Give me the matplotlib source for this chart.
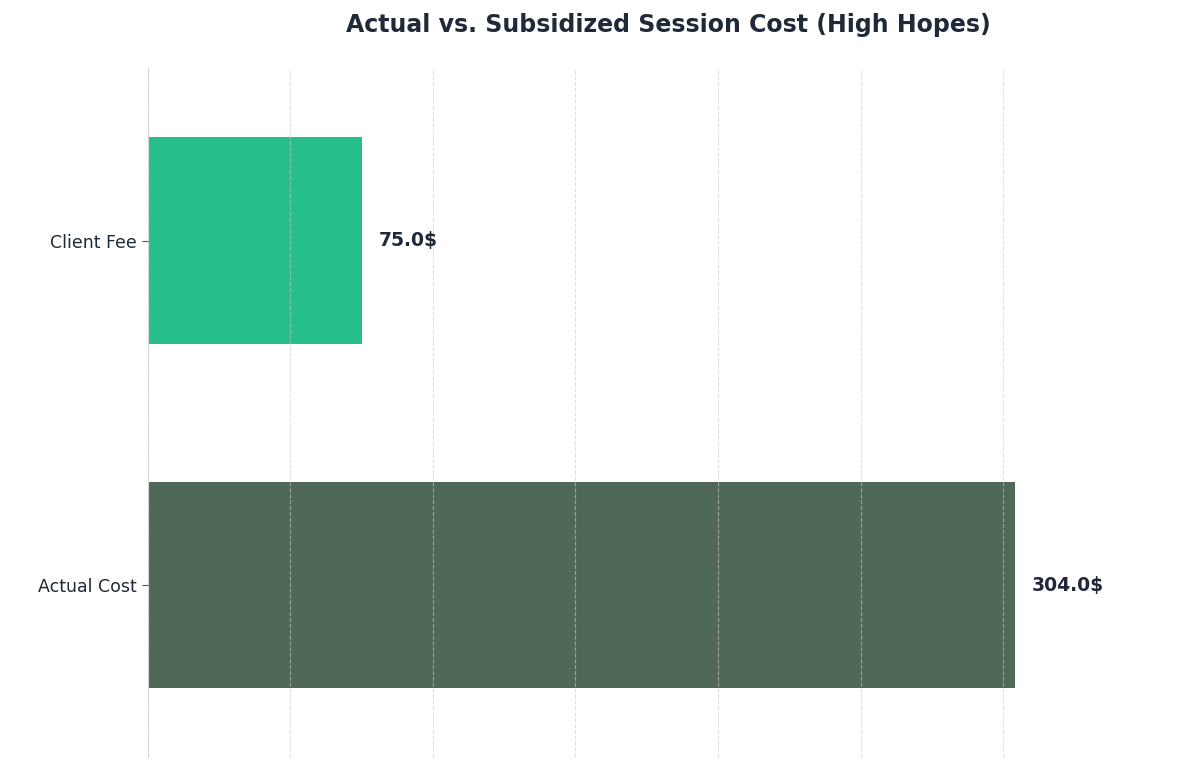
import matplotlib
matplotlib.use("Agg")
import matplotlib.pyplot as plt

categories = ["Actual Cost", "Client Fee"]
values = [304.0, 75.0]
colors = ["#506857", "#26bf8c"]

fig = plt.figure(figsize=(12, 7.68), dpi=100)
ax = fig.add_axes([0.123, 0.014, 0.832, 0.897])
ax.barh(range(len(categories)), values, height=0.6, color=colors, zorder=1)
ax.set_xlim(0, 350)
ax.set_ylim(-0.5, 1.5)
ax.set_xticks(range(0, 351, 50))
ax.tick_params(axis="x", length=0, labelbottom=False)
ax.set_yticks(range(len(categories)))
ax.set_yticklabels(categories, fontsize=12.5, color="#1f2937")
ax.tick_params(axis="y", length=4, color="#555555")
ax.grid(axis="x", linestyle="--", color="#cccccc", alpha=0.6, linewidth=0.8, zorder=2)
ax.set_axisbelow(False)
for s in ["top", "right", "bottom"]:
    ax.spines[s].set_visible(False)
ax.spines["left"].set_color("#dddddd")
for i, v in enumerate(values):
    ax.text(v + 6, i, f"{v}$", va="center", ha="left", fontsize=13.5,
            fontweight="bold", color="#1f2937")
fig.text(0.557, 0.967, "Actual vs. Subsidized Session Cost (High Hopes)",
         ha="center", va="center", fontsize=17, fontweight="bold", color="#1f2937")
fig.savefig("out.png", dpi=100)
